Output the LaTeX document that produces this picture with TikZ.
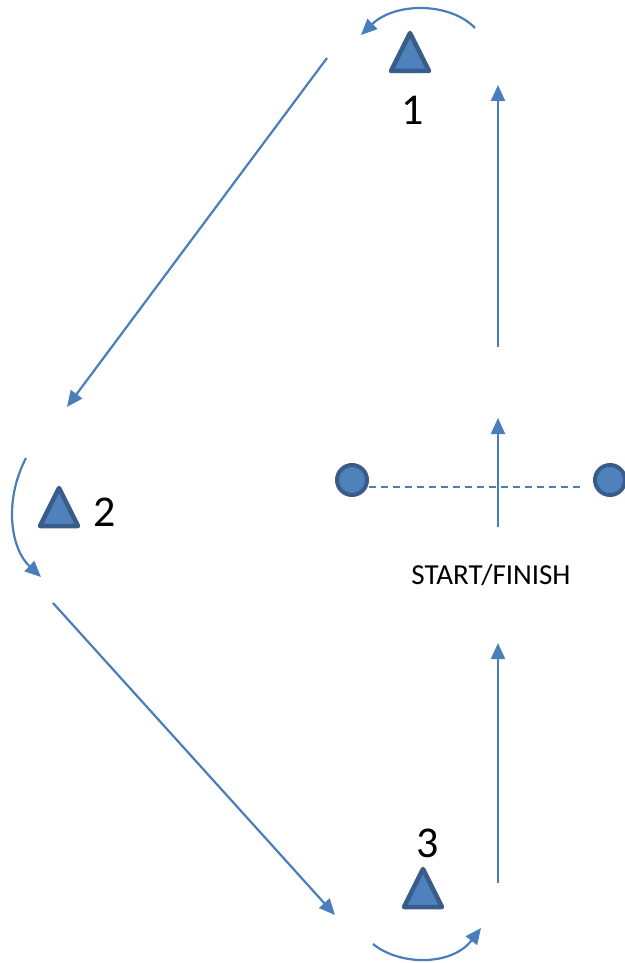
\documentclass[tikz,border=0pt]{standalone}
\usepackage{fontspec}
\setmainfont{Carlito}
\usetikzlibrary{arrows.meta}
\definecolor{lineblue}{HTML}{4A7EBB}
\definecolor{fillblue}{HTML}{4F81BD}
\definecolor{edgeblue}{HTML}{385D8A}
\tikzset{
	route/.style={draw=lineblue, line width=2.2pt, -{Triangle[length=16pt,width=14pt]}},
	cone/.style={fill=fillblue, draw=edgeblue, line width=4.5pt, line join=round},
	gate/.style={circle, fill=fillblue, draw=edgeblue, line width=4pt, minimum size=30pt, inner sep=0pt},
	num/.style={font=\fontsize{44}{44}\selectfont}
}
\begin{document}
\begin{tikzpicture}[x=1pt, y=-1pt]
		\useasboundingbox (0,0) rectangle (624,963);
		\foreach \cx/\cy in {410/71, 59/526, 423/907}
			\draw[cone] (\cx-19,\cy) -- (\cx,\cy-38) -- (\cx+19,\cy) -- cycle;
		\node[num] (n1) at (413,110) {1};
		\node[num] (n2) at (105,512) {2};
		\node[num] (n3) at (428,843) {3};
		\node[gate] (gl) at (352,480) {};
		\node[gate] (gr) at (610,480) {};
		\node[font=\fontsize{29}{29}\selectfont] (sf) at (491,575) {START/FINISH};
		\coordinate (c1) at (498,527);
		\coordinate (c2) at (498,418);
		\coordinate (r1) at (498,347);
		\coordinate (r2) at (498,85);
		\coordinate (a1) at (475,28);
		\coordinate (a2) at (361,35);
		\coordinate (d1) at (327,58);
		\coordinate (d2) at (67,407);
		\coordinate (b1) at (26,458);
		\coordinate (b2) at (41,577);
		\coordinate (e1) at (53,603);
		\coordinate (e2) at (335,915);
		\coordinate (f1) at (373,944);
		\coordinate (f2) at (481,928);
		\coordinate (g1) at (498,883);
		\coordinate (g2) at (498,643);
		\draw[lineblue, line width=2pt, dashed, dash pattern=on 7pt off 5pt] (gl.east |- 0,487) -- (583,487);
		\draw[route] (c1) -- (c2);
		\draw[route] (r1) -- (r2);
		\draw[route] (a1) .. controls (450,2) and (395,2) .. (a2);
		\draw[route] (d1) -- (d2);
		\draw[route] (b1) .. controls (4,500) and (10,548) .. (b2);
		\draw[route] (e1) -- (e2);
		\draw[route] (f1) .. controls (400,966) and (452,966) .. (f2);
		\draw[route] (g1) -- (g2);
	\end{tikzpicture}
\end{document}
